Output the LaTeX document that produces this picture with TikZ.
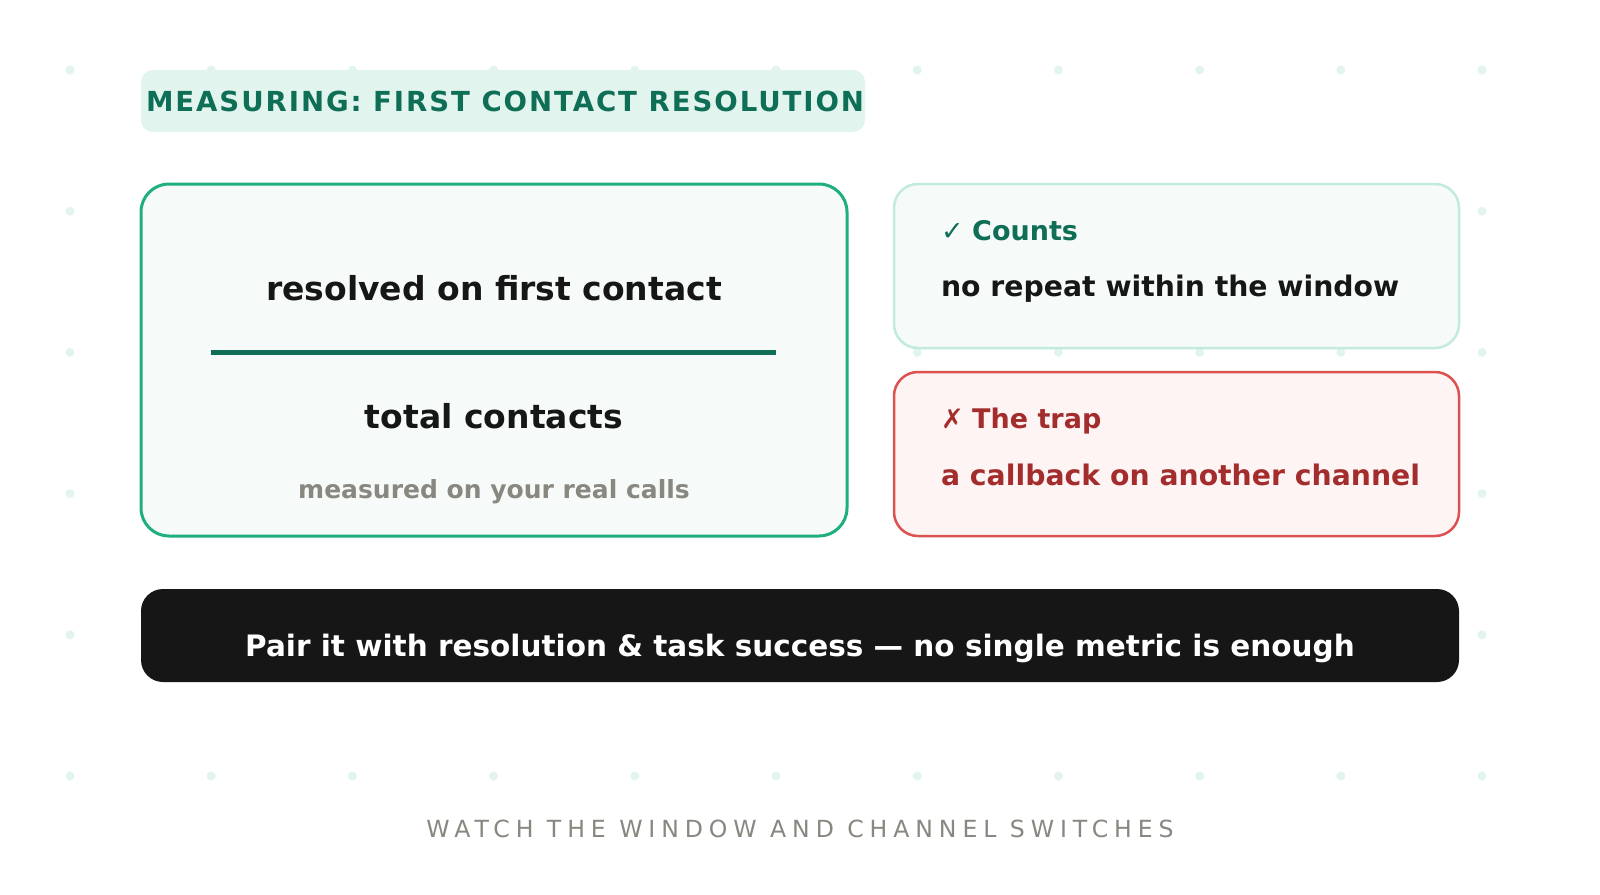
\documentclass[tikz,border=0pt]{standalone}
\usepackage{fontspec}
\setmainfont{DejaVu Sans}
\newfontfamily\titlefont[LetterSpace=7]{DejaVu Sans}
\newfontfamily\footfont[LetterSpace=25]{DejaVu Sans}
\newfontfamily\symfont{DejaVu Sans}
\definecolor{dotc}{HTML}{E1F5EE}
\definecolor{mint}{HTML}{E1F5EE}
\definecolor{dkgreen}{HTML}{0F6E56}
\definecolor{grn}{HTML}{1EAE80}
\definecolor{panel}{HTML}{F6FBF9}
\definecolor{lightgrn}{HTML}{C2EBDC}
\definecolor{redb}{HTML}{DC5250}
\definecolor{redt}{HTML}{A32D2D}
\definecolor{redfill}{HTML}{FEF4F3}
\definecolor{ink}{HTML}{161616}
\definecolor{grayt}{HTML}{888780}
\tikzset{
  card/.style={inner sep=0pt, outer sep=0pt, rectangle},
  txt/.style={inner sep=0pt, outer sep=0pt, anchor=base},
  txtl/.style={inner sep=0pt, outer sep=0pt, anchor=base west},
}
\begin{document}
\begin{tikzpicture}[x=1pt,y=-1pt]
\useasboundingbox (0,0) rectangle (1600,894);
\fill[white] (0,0) rectangle (1600,894);
\foreach \i in {0,...,10} {
  \foreach \j in {0,...,5} {
    \fill[dotc] ({70+141.2*\i},{70+141.2*\j}) circle (4.5);
  }
}
% title
\node[card, fill=mint, minimum width=724pt, minimum height=62pt, rounded corners=12pt] (titlebox) at (503,101) {};
\node[txtl, text=dkgreen] (title) at (146,111) {\fontsize{27.6}{32}\titlefont\bfseries MEASURING: FIRST CONTACT RESOLUTION};
% main card
\node[card, draw=grn, fill=panel, line width=3pt, minimum width=706pt, minimum height=352pt, rounded corners=28pt] (main) at (494,360) {};
\node[txt, text=ink] (num) at (494,300) {\fontsize{33}{38}\selectfont\bfseries resolved on first contact};
\coordinate (ruleL) at (211,352);
\coordinate (ruleR) at (776,352);
\draw[dkgreen, line width=5pt] (ruleL) -- (ruleR);
\node[txt, text=ink] (den) at (494,428) {\fontsize{33}{38}\selectfont\bfseries total contacts};
\node[txt, text=grayt] (note) at (494,498) {\fontsize{25}{29}\selectfont\bfseries measured on your real calls};
% counts card
\node[card, draw=lightgrn, fill=panel, line width=2.5pt, minimum width=565pt, minimum height=164pt, rounded corners=24pt] (counts) at (1176.5,266) {};
\node[txtl, text=dkgreen] (countsh) at (941,240) {\fontsize{27}{31}\selectfont{\symfont ✓} \bfseries Counts};
\node[txtl, text=ink] (countsb) at (941,296) {\fontsize{28.3}{32}\selectfont\bfseries no repeat within the window};
% trap card
\node[card, draw=redb, fill=redfill, line width=2.5pt, minimum width=565pt, minimum height=164pt, rounded corners=24pt] (trap) at (1176.5,454) {};
\node[txtl, text=redt] (traph) at (941,428) {\fontsize{27}{31}\selectfont{\symfont ✗} \bfseries The trap};
\node[txtl, text=redt] (trapb) at (941,485) {\fontsize{28.3}{32}\selectfont\bfseries a callback on another channel};
% bar
\node[card, fill=ink, minimum width=1318pt, minimum height=93pt, rounded corners=22pt] (bar) at (800,635.5) {};
\node[txt, text=white] (bart) at (800,656) {\fontsize{29.5}{34}\selectfont\bfseries Pair it with resolution \& task success — no single metric is enough};
% footer
\node[txt, text=grayt] (foot) at (800,837) {\fontsize{23.6}{28}\footfont WATCH THE WINDOW AND CHANNEL SWITCHES};
\end{tikzpicture}
\end{document}
